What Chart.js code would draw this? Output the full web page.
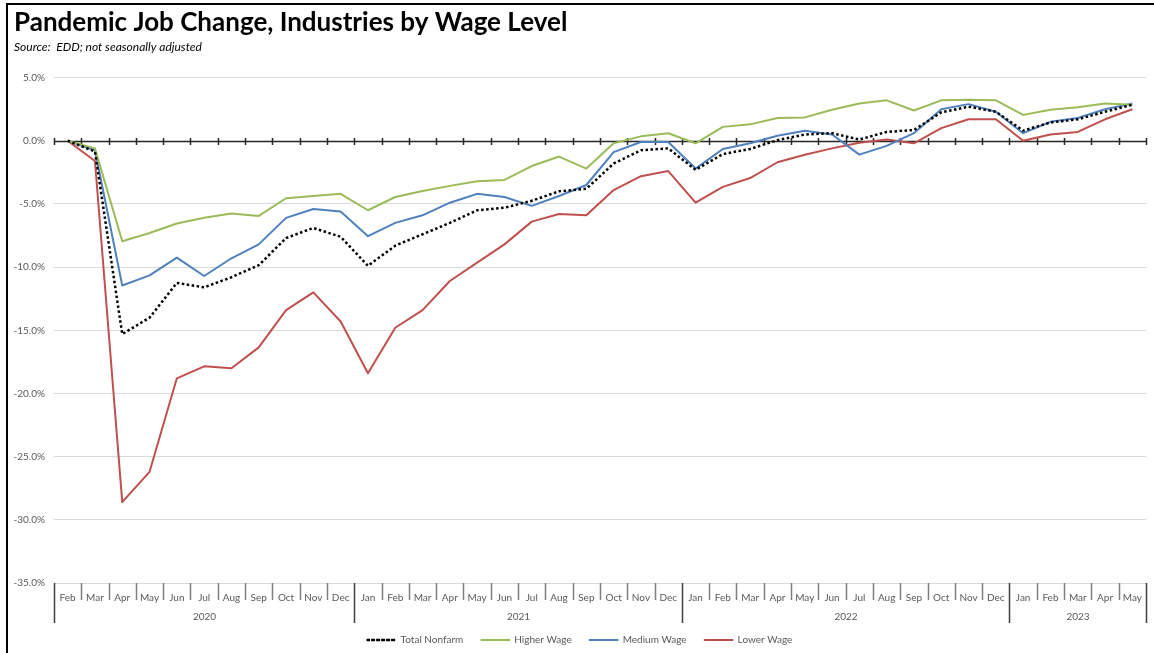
<!DOCTYPE html>
<html>
<head>
<meta charset="utf-8">
<style>
  html, body { margin: 0; padding: 0; background: #fff; }
  #wrap { position: absolute; left: 0; top: 0; width: 1154px; height: 653px; }
  #frame { position: absolute; left: 6px; top: 3px; right: 0; bottom: 0; border-top: 2px solid #000; border-left: 2px solid #000; pointer-events: none; }
</style>
<script src="https://cdn.jsdelivr.net/npm/chart.js@4/dist/chart.umd.min.js"></script>
</head>
<body>
<div id="wrap">
  <canvas id="chart" width="1154" height="653"></canvas>
  <div id="frame"></div>
</div>
<script>
// categories (one per month, Feb 2020 .. May 2023)
const months = [
  'Feb','Mar','Apr','May','Jun','Jul','Aug','Sep','Oct','Nov','Dec',
  'Jan','Feb','Mar','Apr','May','Jun','Jul','Aug','Sep','Oct','Nov','Dec',
  'Jan','Feb','Mar','Apr','May','Jun','Jul','Aug','Sep','Oct','Nov','Dec',
  'Jan','Feb','Mar','Apr','May'
];
const yearLabels = ['2020', '2021', '2022', '2023'];
const yearSpans = [11, 12, 12, 5];

// percent change since Feb 2020
const totalNonfarm = [
  0, -0.85, -15.3, -14.0, -11.25, -11.6, -10.8, -9.85, -7.7, -6.9, -7.6,
  -9.9, -8.3, -7.4, -6.5, -5.5, -5.3, -4.75, -4.0, -3.8, -1.8, -0.75, -0.6,
  -2.3, -1.05, -0.65, 0.05, 0.5, 0.6, 0.1, 0.7, 0.85, 2.25, 2.7, 2.3,
  0.8, 1.45, 1.7, 2.3, 2.85
];
const higherWage = [
  0, -0.6, -7.95, -7.3, -6.55, -6.1, -5.75, -5.95, -4.55, -4.37, -4.2,
  -5.5, -4.45, -3.97, -3.57, -3.2, -3.1, -2.0, -1.25, -2.2, -0.2, 0.35, 0.6,
  -0.2, 1.1, 1.3, 1.8, 1.85, 2.45, 2.95, 3.2, 2.4, 3.2, 3.25, 3.2,
  2.05, 2.45, 2.65, 2.95, 2.85
];
const mediumWage = [
  0, -0.75, -11.45, -10.65, -9.25, -10.7, -9.3, -8.2, -6.1, -5.4, -5.6,
  -7.55, -6.5, -5.9, -4.9, -4.2, -4.45, -5.15, -4.37, -3.5, -0.9, -0.1, -0.1,
  -2.2, -0.65, -0.2, 0.4, 0.8, 0.5, -1.1, -0.4, 0.6, 2.5, 2.9, 2.3,
  0.6, 1.5, 1.8, 2.5, 2.95
];
const lowerWage = [
  0, -1.6, -28.6, -26.2, -18.8, -17.85, -18.0, -16.35, -13.4, -12.0, -14.3,
  -18.4, -14.8, -13.4, -11.1, -9.65, -8.2, -6.4, -5.8, -5.9, -3.9, -2.8, -2.4,
  -4.9, -3.65, -2.95, -1.7, -1.1, -0.6, -0.15, 0.1, -0.2, 1.0, 1.7, 1.7,
  0.0, 0.5, 0.7, 1.7, 2.5
];

const FONT = "Lato, 'Open Sans', sans-serif";
const AXIS_GRAY = '#595959';

// zero line with small tick marks at the month boundaries
const zeroAxisPlugin = {
  id: 'zeroAxis',
  beforeDatasetsDraw(chart) {
    const xs = chart.scales.x, ys = chart.scales.y, area = chart.chartArea;
    const y0 = Math.round(ys.getPixelForValue(0)) + 0.5;
    const step = xs.getPixelForValue(1) - xs.getPixelForValue(0);
    const ctx = chart.ctx;
    ctx.save();
    ctx.strokeStyle = '#262626';
    ctx.lineWidth = 1.5;
    ctx.beginPath();
    ctx.moveTo(area.left, y0);
    ctx.lineTo(area.right, y0);
    for (let i = 0; i <= months.length; i++) {
      const x = Math.round(xs.getPixelForValue(0) - step / 2 + i * step) + 0.5;
      ctx.moveTo(x, y0 - 3.5);
      ctx.lineTo(x, y0 + 3.5);
    }
    ctx.stroke();
    ctx.restore();
  }
};

// month separators, year separators and year labels under the plot
const yearAxisPlugin = {
  id: 'yearAxis',
  afterDraw(chart) {
    const xs = chart.scales.x, area = chart.chartArea, ctx = chart.ctx;
    const step = xs.getPixelForValue(1) - xs.getPixelForValue(0);
    const edge = (i) => Math.round(xs.getPixelForValue(0) - step / 2 + i * step) + 0.5;
    const yearStarts = [0];
    yearSpans.forEach((n, k) => yearStarts.push(yearStarts[k] + n));

    ctx.save();
    ctx.lineWidth = 1.5;
    ctx.strokeStyle = '#7f7f7f';
    ctx.beginPath();
    for (let i = 0; i <= months.length; i++) {
      if (yearStarts.includes(i)) continue;
      ctx.moveTo(edge(i), area.bottom);
      ctx.lineTo(edge(i), area.bottom + 17);
    }
    ctx.stroke();

    ctx.strokeStyle = '#404040';
    ctx.beginPath();
    yearStarts.forEach((i) => {
      ctx.moveTo(edge(i), area.bottom);
      ctx.lineTo(edge(i), area.bottom + 40);
    });
    ctx.stroke();

    ctx.fillStyle = AXIS_GRAY;
    ctx.font = `10px ${FONT}`;
    ctx.textAlign = 'center';
    ctx.textBaseline = 'middle';
    yearLabels.forEach((label, k) => {
      const x = (edge(yearStarts[k]) + edge(yearStarts[k + 1])) / 2;
      ctx.fillText(label, x, area.bottom + 34);
    });
    ctx.restore();
  }
};

const lineBase = {
  borderWidth: 2, pointRadius: 0, pointHoverRadius: 0, tension: 0,
  borderJoinStyle: 'round', fill: false, backgroundColor: 'rgba(0,0,0,0)'
};

const config = {
  type: 'line',
  data: {
    labels: months,
    datasets: [
      { ...lineBase, label: 'Total Nonfarm', data: totalNonfarm, borderColor: '#000000', borderWidth: 2.5, borderDash: [2.5, 2.5] },
      { ...lineBase, label: 'Higher Wage', data: higherWage, borderColor: '#9BBB59' },
      { ...lineBase, label: 'Medium Wage', data: mediumWage, borderColor: '#4F81BD' },
      { ...lineBase, label: 'Lower Wage', data: lowerWage, borderColor: '#C0504D' }
    ]
  },
  options: {
    responsive: false,
    animation: false,
    events: [],
    layout: { padding: { left: 14, right: 8, top: 0, bottom: -2 } },
    plugins: {
      title: {
        display: true,
        text: 'Pandemic Job Change, Industries by Wage Level',
        align: 'start',
        color: '#000',
        font: { family: FONT, size: 26, weight: 'bold', lineHeight: 1.2 },
        padding: { top: 7, bottom: 0 }
      },
      subtitle: {
        display: true,
        text: 'Source:  EDD; not seasonally adjusted',
        align: 'start',
        color: '#000',
        font: { family: FONT, size: 12, style: 'italic', lineHeight: 1.2 },
        padding: { top: 2, bottom: 23 }
      },
      legend: {
        position: 'bottom',
        labels: {
          boxWidth: 28,
          boxHeight: 0,
          padding: 18,
          color: AXIS_GRAY,
          font: { family: FONT, size: 10 }
        }
      },
      tooltip: { enabled: false }
    },
    scales: {
      x: {
        type: 'category',
        offset: true,
        grid: { display: false, drawTicks: false },
        border: { display: false },
        afterFit(scale) { scale.height = 34; },
        ticks: {
          autoSkip: false,
          maxRotation: 0,
          padding: 9,
          color: AXIS_GRAY,
          font: { family: FONT, size: 10 }
        }
      },
      y: {
        min: -35,
        max: 5,
        afterFit(scale) { scale.width = 40; },
        grid: {
          drawTicks: false,
          color: (c) => (c.tick && c.tick.value === 0 ? 'rgba(0,0,0,0)' : '#d9d9d9'),
          lineWidth: 1
        },
        border: { display: false },
        ticks: {
          stepSize: 5,
          padding: 9,
          color: AXIS_GRAY,
          font: { family: FONT, size: 10 },
          callback: (v) => `${Number(v).toFixed(1)}%`
        }
      }
    }
  },
  plugins: [zeroAxisPlugin, yearAxisPlugin]
};

new Chart(document.getElementById('chart').getContext('2d'), config);
</script>
</body>
</html>
